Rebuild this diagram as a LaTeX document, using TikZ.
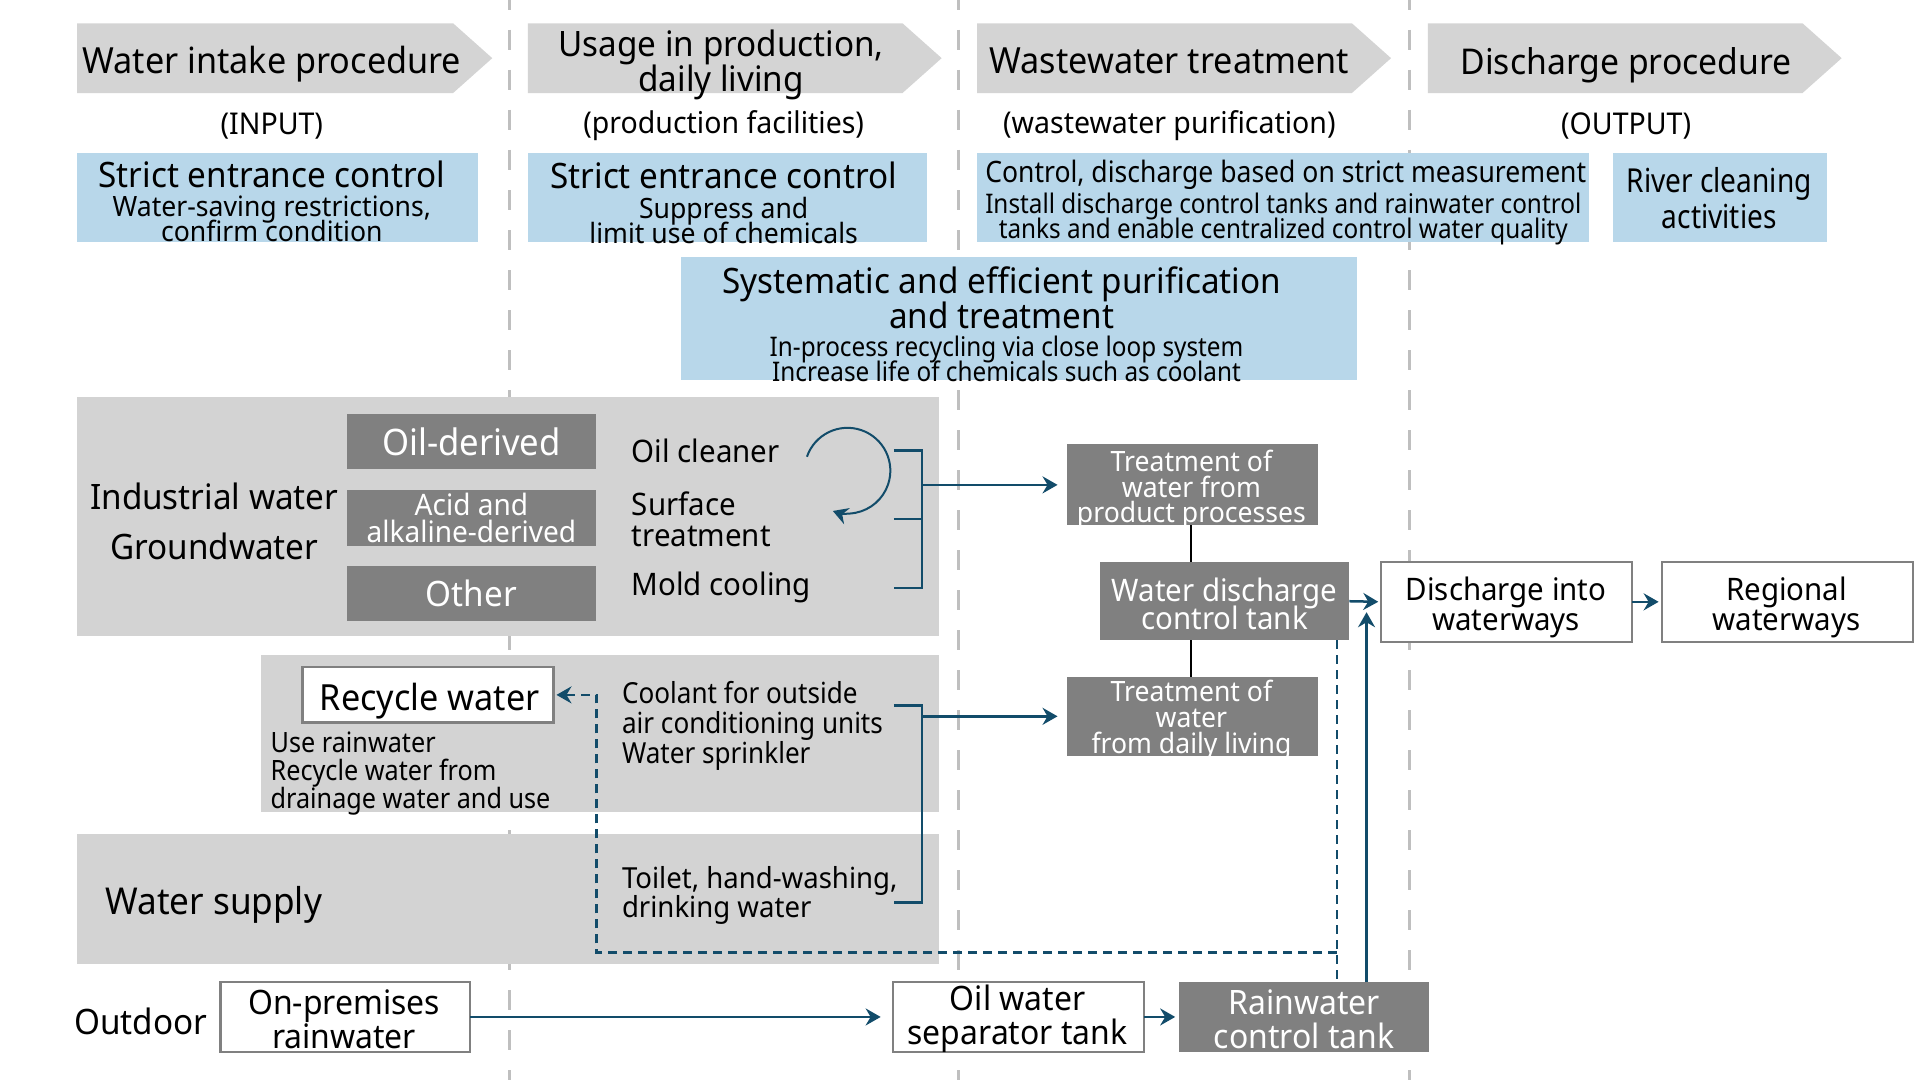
\documentclass[tikz,border=0pt]{standalone}
\usepackage{fontspec}
\setmainfont{Noto Sans}[FakeStretch=0.95]
\newfontfamily\condfont{Noto Sans}[FakeStretch=0.85]
\newfontfamily\midfont{Noto Sans}[FakeStretch=0.9]
\usetikzlibrary{arrows.meta,fit}
\definecolor{hdrgray}{RGB}{212,212,212}
\definecolor{panelgray}{RGB}{211,211,211}
\definecolor{lblue}{RGB}{184,215,234}
\definecolor{dgray}{RGB}{128,128,128}
\definecolor{flowblue}{RGB}{18,76,106}
\definecolor{divgray}{RGB}{191,191,191}
\newcommand{\fs}[2]{\fontsize{#1}{#2}\selectfont\lineskiplimit=-60pt\relax}
\begin{document}
\begin{tikzpicture}[x=1.22449pt,y=-1.22449pt,
  every node/.style={inner sep=0pt,outer sep=0pt},
  bluebox/.style={fill=lblue},
  darkbox/.style={fill=dgray},
  whitebox/.style={fill=white,draw=dgray,line width=2.2pt},
  panel/.style={fill=panelgray},
  hdrbox/.style={fill=hdrgray},
  wtext/.style={text=white,align=center},
  ctext/.style={align=center},
  ltext/.style={align=left,anchor=west},
  flowline/.style={draw=flowblue,line width=2.5pt},
  flow/.style={flowline,-{Stealth[length=15pt,width=17pt,inset=5pt]}},
  dflow/.style={flowline,dash pattern=on 9pt off 6pt},
  joint/.style={draw=black,line width=2pt},
  divider/.style={draw=divgray,line width=3pt,dash pattern=on 20pt off 20pt,dash phase=10pt}
]
\useasboundingbox[fill=white] (0,0) rectangle (1568,882);

% dividers
\coordinate (d1t) at (416,0);  \coordinate (d1b) at (416,882);
\coordinate (d2t) at (783,0);  \coordinate (d2b) at (783,882);
\coordinate (d3t) at (1151,0); \coordinate (d3b) at (1151,882);
\draw[divider] (d1t) -- (d1b);
\draw[divider] (d2t) -- (d2b);
\draw[divider] (d3t) -- (d3b);

% header arrows
\fill[hdrbox] (63,19) -- (370,19) -- (402,47.5) -- (370,76) -- (63,76) -- cycle;
\fill[hdrbox] (431,19) -- (737,19) -- (769,47.5) -- (737,76) -- (431,76) -- cycle;
\fill[hdrbox] (798,19) -- (1104,19) -- (1136,47.5) -- (1104,76) -- (798,76) -- cycle;
\fill[hdrbox] (1166,19) -- (1472,19) -- (1504,47.5) -- (1472,76) -- (1166,76) -- cycle;
\node[ctext,font=\fs{36}{35.5}] (h1) at (222,52) {Water intake procedure};
\node[ctext,font=\fs{35}{35.5}] (h2) at (589,53) {Usage in production,\\daily living};
\node[ctext,font=\fs{36}{35.5}] (h3) at (955,50) {Wastewater treatment};
\node[ctext,font=\fs{35.5}{35.5}] (h4) at (1328,53) {Discharge procedure};

\node[font=\fs{30}{30}] (s1) at (222,103) {(INPUT)};
\node[font=\fs{30}{30}] (s2) at (591,103) {(production facilities)};
\node[font=\fs{30}{30}] (s3) at (955,103) {(wastewater purification)};
\node[font=\fs{30}{30}] (s4) at (1328,103) {(OUTPUT)};

% blue boxes
\node[bluebox,fit={(63,125)(390,198)}] (b1) {};
\node[bluebox,fit={(431,125)(757,198)}] (b2) {};
\node[bluebox,fit={(798,125)(1298,198)}] (b3) {};
\node[bluebox,fit={(1317,125)(1492,198)}] (b4) {};
\node[bluebox,fit={(556,210)(1108,310)}] (b5) {};

\node[ctext,font=\fs{35}{36}] (b1t) at (222,142) {Strict entrance control};
\node[ctext,font=\fs{28}{25}] (b1s) at (222,179) {Water-saving restrictions,\\confirm condition};
\node[ctext,font=\fs{35}{36}] (b2t) at (591,143) {Strict entrance control};
\node[ctext,font=\fs{28}{25}] (b2s) at (591,180) {Suppress and\\limit use of chemicals};
\node[ctext,font=\midfont\fs{29.5}{30}] (b3t) at (1050,143) {Control, discharge based on strict measurement};
\node[ctext,font=\midfont\fs{27}{25}] (b3s) at (1048,179) {Install discharge control tanks and rainwater control\\tanks and enable centralized control water quality};
\node[ctext,font=\condfont\fs{33}{35.5}] (b4t) at (1404,162) {River cleaning\\activities};
\node[ctext,font=\fs{35}{35.5}] (b5t) at (818,243) {Systematic and efficient purification\\and treatment};
\node[ctext,font=\midfont\fs{27}{25}] (b5s) at (822,293) {In-process recycling via close loop system\\Increase life of chemicals such as coolant};

% panels
\node[panel,fit={(63,324)(767,519)}] (p1) {};
\node[panel,fit={(213,535)(767,663)}] (p2) {};
\node[panel,fit={(63,681)(767,787)}] (p3) {};

% panel 1
\node[font=\fs{35}{36}] (iw) at (175,405) {Industrial water};
\node[font=\fs{35}{36}] (gw) at (175,446) {Groundwater};
\node[darkbox,fit={(283,338)(487,383)}] (oil) {};
\node[darkbox,fit={(283,400)(487,446)}] (acid) {};
\node[darkbox,fit={(283,462)(487,507)}] (oth) {};
\node[wtext,font=\fs{36.5}{35}] (oilt) at (oil.center) {Oil-derived};
\node[wtext,font=\fs{29.5}{27}] (acidt) at (acid.center) {Acid and\\alkaline-derived};
\node[wtext,font=\fs{35}{35}] (otht) at (oth.center) {Other};
\node[ltext,font=\fs{31}{30.6}] (oc) at (516,368) {Oil cleaner};
\node[ltext,font=\fs{31}{30.6}] (st) at (516,424) {Surface\\treatment};
\node[ltext,font=\fs{31}{30.6}] (mc) at (516,480) {Mold cooling};

\coordinate (loopst) at (659,373);
\draw[flow,line width=2pt] (loopst) arc[start angle=-161,end angle=110,radius=35];

% bracket 1
\coordinate (k1a) at (730,368); \coordinate (k1b) at (730,424); \coordinate (k1c) at (730,480);
\coordinate (br1) at (753,0);
\draw[flowline] (k1a) -- (k1a -| br1) -- (k1c -| br1) -- (k1c);
\draw[flowline] (k1b) -- (k1b -| br1);

% treatment column
\node[darkbox,fit={(871,363)(1076,429)}] (t1) {};
\node[darkbox,fit={(898,459)(1102,523)}] (tank) {};
\node[darkbox,fit={(871,553)(1076,617)}] (t2) {};
\node[wtext,font=\fs{28}{25.7}] (t1t) at (973,400) {Treatment of\\water from\\product processes};
\node[wtext,font=\fs{31}{28.5}] (tankt) at (1000,493) {Water discharge\\control tank};
\node[wtext,font=\fs{28}{25.7}] (t2t) at (973,588) {Treatment of\\water\\from daily living};
\coordinate (jx) at (973,0);
\draw[joint] (t1.south -| jx) -- (tank.north -| jx);
\draw[joint] (tank.south -| jx) -- (t2.north -| jx);

\draw[flow,shorten >=9pt] (t1.west -| br1) -- (t1.west);

% discharge
\node[whitebox,fit={(1128,459)(1333,524)}] (disch) {};
\node[whitebox,fit={(1357,459)(1562,524)}] (reg) {};
\node[ctext,font=\fs{31}{29.4}] (discht) at (1230,496) {Discharge into\\waterways};
\node[ctext,font=\fs{31}{29.4}] (regt) at (1459,496) {Regional\\waterways};
\draw[flow,shorten >=3pt] (tank.east) -- (disch.west);
\draw[flow,shorten >=3pt] (disch.east) -- (reg.west);

% panel 2
\node[whitebox,fit={(247,545)(452,590)}] (recy) {};
\node[font=\fs{36}{35}] (recyt) at (351,573) {Recycle water};
\node[ltext,font=\midfont\fs{28}{28}] (usert) at (221,632) {Use rainwater\\Recycle water from\\drainage water and use};
\node[ltext,font=\midfont\fs{29}{30}] (cool) at (508,593) {Coolant for outside\\air conditioning units\\Water sprinkler};

% panel 3
\node[ltext,font=\fs{37}{36}] (ws) at (86,739) {Water supply};
\node[ltext,font=\fs{29}{29.4}] (toil) at (508,731.5) {Toilet, hand-washing,\\drinking water};

% bracket 2
\coordinate (k2a) at (730,576); \coordinate (k2b) at (730,737);
\draw[flowline] (k2a) -- (k2a -| br1) -- (k2b -| br1) -- (k2b);
\draw[flow,shorten >=9pt] (t2.west -| br1) -- (t2.west);

% outdoor row
\node[font=\fs{35}{36}] (outd) at (115,834) {Outdoor};
\node[whitebox,fit={(180,802)(384,859)}] (onp) {};
\node[whitebox,fit={(729,802)(934,859)}] (sep) {};
\node[darkbox,fit={(963,802)(1167,859)}] (rain) {};
\node[ctext,font=\fs{33.6}{34}] (onpt) at (281,832) {On-premises\\rainwater};
\node[ctext,font=\fs{33.6}{34}] (sept) at (831,832) {Oil water\\separator tank};
\node[wtext,font=\fs{33.6}{34}] (raint) at (1065,832) {Rainwater\\control tank};
\draw[flow,shorten >=12pt] (onp.east) -- (sep.west);
\draw[flow,shorten >=4pt] (sep.east) -- (rain.west);

% rainwater flows
\coordinate (upx) at (1116,0);
\draw[flow,shorten >=11pt] (rain.north -| upx) -- (upx |- tank.east);
\coordinate (dx) at (1092,0);
\coordinate (djoin) at (1092,778);
\coordinate (dcorner) at (487,778);
\draw[dflow] (tank.south -| dx) -- (rain.north -| dx);
\draw[dflow,-{Stealth[length=15pt,width=17pt,inset=5pt]},shorten >=3pt] (djoin) -- (dcorner) -- (dcorner |- recy.east) -- (recy.east);
\end{tikzpicture}
\end{document}
